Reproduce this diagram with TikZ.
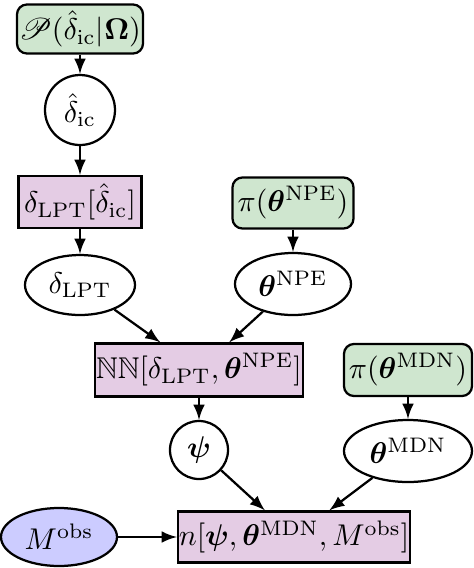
\documentclass[tikz,border=0pt]{standalone}
\usepackage{amsmath,amssymb,bm}
\usepackage{mathrsfs}
\usetikzlibrary{shapes.geometric,arrows}
\definecolor{priorgreen}{RGB}{207,230,207}
\definecolor{funcpurple}{RGB}{228,204,228}
\definecolor{obsblue}{RGB}{204,204,255}
\tikzset{
  base/.style={draw=black, line width=0.75pt, inner sep=0pt, font=\normalsize},
  prior/.style={base, rectangle, rounded corners=3.3pt, fill=priorgreen},
  func/.style={base, rectangle, fill=funcpurple},
  var/.style={base, ellipse},
  circ/.style={base, circle},
  obs/.style={base, ellipse, fill=obsblue},
  conn/.style={-latex, line width=0.75pt},
}
\begin{document}
\begin{tikzpicture}[x=0.3333pt, y=-0.3333pt]
\useasboundingbox (0,0) rectangle (474,568);
\node[prior, minimum width=126*0.3333pt, minimum height=49*0.3333pt] (P) at (80,29) {$\mathscr{P}(\hat{\delta}_{\mathrm{ic}}|\bm{\Omega})$};
\node[circ, minimum size=70*0.3333pt] (dic) at (80,110) {$\hat{\delta}_{\mathrm{ic}}$};
\node[func, minimum width=123*0.3333pt, minimum height=52*0.3333pt] (LPTf) at (80,202) {$\delta_{\mathrm{LPT}}[\hat{\delta}_{\mathrm{ic}}]$};
\node[var, minimum width=110*0.3333pt, minimum height=60*0.3333pt] (dLPT) at (80,285) {$\delta_{\mathrm{LPT}}$};
\node[prior, minimum width=121*0.3333pt, minimum height=51*0.3333pt] (pNPE) at (293,203) {$\pi(\bm{\theta}^{\mathrm{NPE}})$};
\node[var, minimum width=116*0.3333pt, minimum height=62*0.3333pt] (tNPE) at (293,284) {$\bm{\theta}^{\mathrm{NPE}}$};
\node[func, minimum width=208*0.3333pt, minimum height=53*0.3333pt] (NN) at (199,370) {$\mathbb{NN}[\delta_{\mathrm{LPT}},\bm{\theta}^{\mathrm{NPE}}]$};
\node[prior, minimum width=128*0.3333pt, minimum height=52*0.3333pt] (pMDN) at (408,370) {$\pi(\bm{\theta}^{\mathrm{MDN}})$};
\node[circ, minimum size=58*0.3333pt] (psi) at (199,450) {$\bm{\psi}$};
\node[var, minimum width=128*0.3333pt, minimum height=62*0.3333pt] (tMDN) at (408,451) {$\bm{\theta}^{\mathrm{MDN}}$};
\node[obs, minimum width=116*0.3333pt, minimum height=58*0.3333pt] (Mobs) at (59,537) {$M^{\mathrm{obs}}$};
\node[func, minimum width=232*0.3333pt, minimum height=51*0.3333pt] (n) at (294,537) {$n[\bm{\psi},\bm{\theta}^{\mathrm{MDN}},M^{\mathrm{obs}}]$};
\draw[conn] (P) -- (dic);
\draw[conn] (dic) -- (LPTf);
\draw[conn] (LPTf) -- (dLPT);
\draw[conn] (pNPE) -- (tNPE);
\draw[conn] (dLPT) -- (NN);
\draw[conn] (tNPE) -- (NN);
\draw[conn] (NN) -- (psi);
\draw[conn] (pMDN) -- (tMDN);
\draw[conn] (psi) -- (n);
\draw[conn] (tMDN) -- (n);
\draw[conn] (Mobs) -- (n);
\end{tikzpicture}
\end{document}
